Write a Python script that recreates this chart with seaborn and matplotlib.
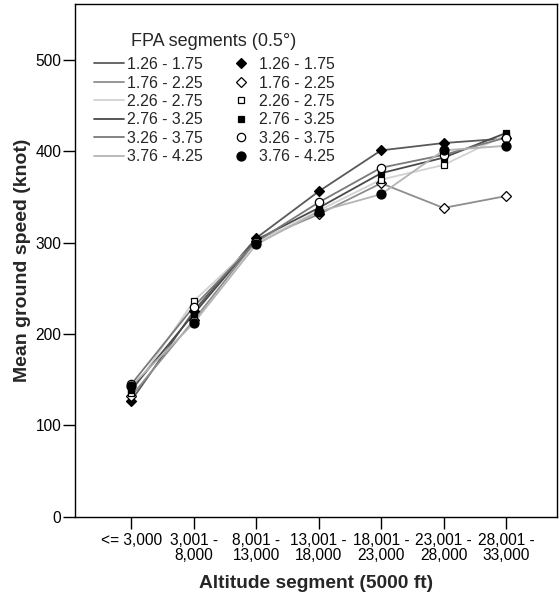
import matplotlib
matplotlib.use("Agg")
import matplotlib.pyplot as plt
import numpy as np
import pandas as pd
import seaborn as sns
from matplotlib.lines import Line2D

altitude_labels = ["<= 3,000", "3,001 -\n8,000", "8,001 -\n13,000", "13,001 -\n18,000",
                   "18,001 -\n23,000", "23,001 -\n28,000", "28,001 -\n33,000"]
fpa_segments = ["1.26 - 1.75", "1.76 - 2.25", "2.26 - 2.75", "2.76 - 3.25", "3.26 - 3.75", "3.76 - 4.25"]

speed_126 = [127, 225, 305, 356, 401, 409, 414]
speed_176 = [132, 215, 302, 331, 365, 338, 351]
speed_226 = [136, 236, 300, 335, 369, 385, 418]
speed_276 = [139, 222, 303, 338, 376, 393, 420]
speed_326 = [145, 230, 301, 344, 382, 396, 415]
speed_376 = [143, 212, 298, 334, 353, 401, 406]

line_colors = ["#5a5a5a", "#8e8e8e", "#d2d2d2", "#4a4a4a", "#7a7a7a", "#b4b4b4"]
markers = ["D", "D", "s", "s", "o", "o"]
marker_faces = ["black", "white", "white", "black", "white", "black"]
marker_sizes = [5, 5, 5, 5, 6, 6.5]

series = [speed_126, speed_176, speed_226, speed_276, speed_326, speed_376]
x_pos = np.arange(len(altitude_labels))
df = pd.DataFrame({
    "alt": np.tile(x_pos, len(fpa_segments)),
    "speed": np.concatenate(series),
    "fpa": np.repeat(fpa_segments, len(altitude_labels)),
})

sns.set_style("ticks")
plt.rcParams["font.family"] = ["Liberation Sans", "DejaVu Sans"]

fig = plt.figure(figsize=(5.6, 5.92), dpi=100)
ax = fig.add_axes([0.134, 0.127, 0.861, 0.866])

sns.lineplot(data=df, x="alt", y="speed", hue="fpa", palette=line_colors,
             linewidth=1.3, legend=False, ax=ax, zorder=2)
for i, seg in enumerate(fpa_segments):
    sub = df[df["fpa"] == seg]
    ax.plot(sub["alt"], sub["speed"], linestyle="none", marker=markers[i],
            markersize=marker_sizes[i], markerfacecolor=marker_faces[i],
            markeredgecolor="black", markeredgewidth=0.9, zorder=3)

ax.set_xlim(-0.9, 6.82)
ax.set_ylim(0, 561)
ax.set_xticks(x_pos)
ax.set_xticklabels(altitude_labels, linespacing=0.95)
ax.set_yticks([0, 100, 200, 300, 400, 500])
ax.tick_params(axis="both", labelsize=11.2, length=8.5, width=1, colors="black", pad=1.5)
ax.tick_params(axis="x", pad=3.5)
for s in ax.spines.values():
    s.set_color("black")
    s.set_linewidth(1)

ax.set_xlabel("Altitude segment (5000 ft)", fontsize=13.8, fontweight="bold", labelpad=9)
ax.set_ylabel("Mean ground speed (knot)", fontsize=14, fontweight="bold", labelpad=3)

line_handles = [Line2D([], [], color=c, linewidth=1.3) for c in line_colors]
marker_handles = [Line2D([], [], linestyle="none", marker=markers[i], markersize=marker_sizes[i],
                         markerfacecolor=marker_faces[i], markeredgecolor="black",
                         markeredgewidth=0.9) for i in range(len(fpa_segments))]
leg = ax.legend(line_handles + marker_handles, fpa_segments + fpa_segments, ncol=2,
                title="FPA segments (0.5°)", title_fontsize=13, fontsize=11.4,
                frameon=False, loc="upper left", bbox_to_anchor=(0.022, 0.959),
                handlelength=1.9, handletextpad=0.2, columnspacing=1.45,
                labelspacing=0.22, borderpad=0)
leg._legend_box.sep = 5

fig.savefig("out.png", dpi=100)
